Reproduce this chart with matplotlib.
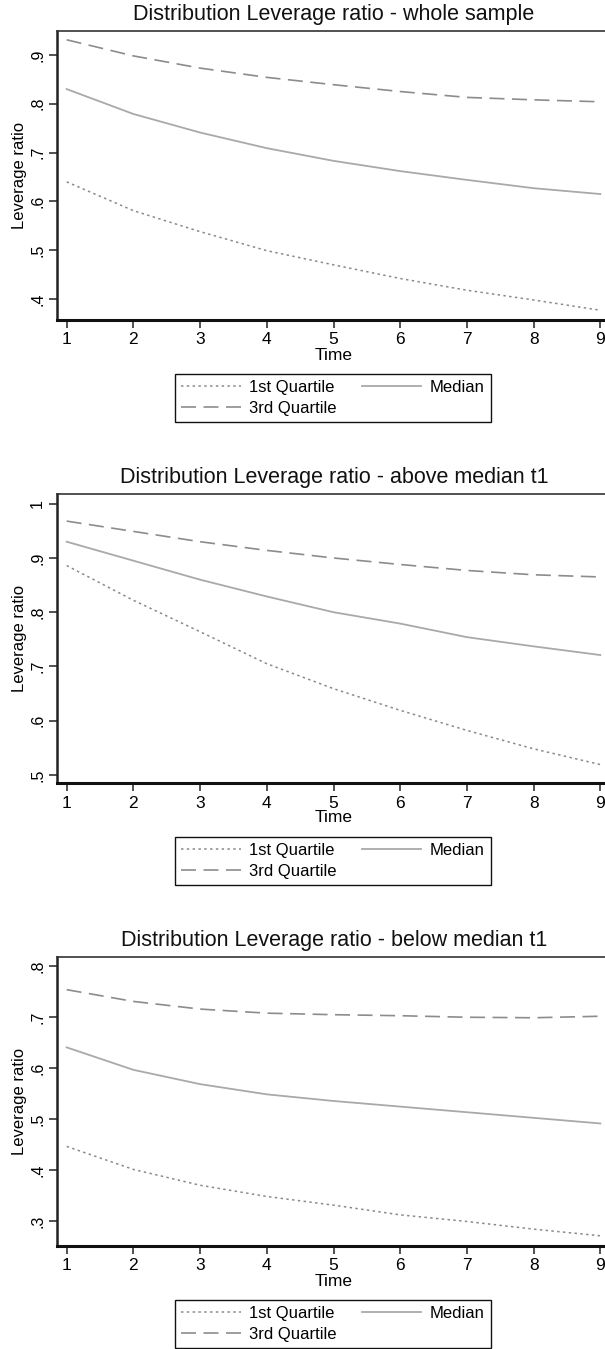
import numpy as np
import matplotlib
matplotlib.use("Agg")
import matplotlib.pyplot as plt

plt.rcParams['font.family'] = ['Liberation Sans', 'DejaVu Sans']

time = [1, 2, 3, 4, 5, 6, 7, 8, 9]

# whole sample
q1_all = [0.640, 0.581, 0.538, 0.499, 0.470, 0.442, 0.418, 0.398, 0.377]
med_all = [0.830, 0.779, 0.741, 0.709, 0.683, 0.662, 0.644, 0.627, 0.615]
q3_all = [0.931, 0.898, 0.873, 0.854, 0.839, 0.825, 0.813, 0.808, 0.804]

# above median t1
q1_above = [0.886, 0.822, 0.764, 0.705, 0.659, 0.619, 0.582, 0.548, 0.519]
med_above = [0.930, 0.895, 0.860, 0.829, 0.800, 0.779, 0.754, 0.737, 0.721]
q3_above = [0.968, 0.949, 0.930, 0.914, 0.900, 0.888, 0.877, 0.869, 0.865]

# below median t1
q1_below = [0.447, 0.402, 0.371, 0.349, 0.332, 0.313, 0.300, 0.285, 0.272]
med_below = [0.641, 0.597, 0.569, 0.549, 0.536, 0.525, 0.514, 0.503, 0.492]
q3_below = [0.754, 0.731, 0.716, 0.708, 0.705, 0.703, 0.700, 0.699, 0.702]

titles = ["Distribution Leverage ratio - whole sample",
          "Distribution Leverage ratio - above median t1",
          "Distribution Leverage ratio - below median t1"]
yticks = [[0.4, 0.5, 0.6, 0.7, 0.8, 0.9],
          [0.5, 0.6, 0.7, 0.8, 0.9, 1.0],
          [0.3, 0.4, 0.5, 0.6, 0.7, 0.8]]
ylims = [(0.357, 0.949), (0.485, 1.018), (0.252, 0.818)]
panels = [(q1_all, med_all, q3_all),
          (q1_above, med_above, q3_above),
          (q1_below, med_below, q3_below)]

W, H = 605, 1349
fig = plt.figure(figsize=(W / 100, H / 100), dpi=100)

tops = [31, 494, 957]      # pixel position of top spine
ax_h = 289
left_px, right_px = 57, 610


def ytick_fmt(v):
    s = "%g" % round(v, 1)
    return s[1:] if s.startswith("0.") else s


for i in range(3):
    top = tops[i]
    ax = fig.add_axes([left_px / W, 1 - (top + ax_h) / H,
                       (right_px - left_px) / W, ax_h / H])
    q1, med, q3 = panels[i]
    l1, = ax.plot(time, q1, color="#8a8a8a", lw=1.1, ls=(0, (1.6, 2.2)))
    l2, = ax.plot(time, med, color="#a9a9a9", lw=1.3, ls="-")
    l3, = ax.plot(time, q3, color="#8c8c8c", lw=1.2, ls=(0, (9, 4.5)))

    ax.set_xlim(0.855, 9.145)
    ax.set_ylim(*ylims[i])
    ax.set_xticks(time)
    ax.set_xticklabels([str(t) for t in time], fontsize=12.5)
    ax.set_yticks(yticks[i])
    ax.set_yticklabels([ytick_fmt(v) for v in yticks[i]], fontsize=11.5,
                       rotation=90, va="center")
    ax.tick_params(axis="both", length=5.5, width=1.1, color="#222222")
    ax.tick_params(axis="x", pad=3.5)
    ax.tick_params(axis="y", pad=3)
    for s in ax.spines.values():
        s.set_color("#333333")
        s.set_linewidth(1.2)
    ax.spines["bottom"].set_linewidth(2.2)
    ax.spines["bottom"].set_color("#111111")
    ax.spines["left"].set_linewidth(1.8)
    ax.spines["left"].set_color("#222222")

    ax.set_xlabel("Time", fontsize=12.5, labelpad=0)
    ax.set_ylabel("Leverage ratio", fontsize=12, labelpad=2)
    fig.text(334 / W, 1 - (top - 16.5) / H, titles[i], fontsize=15.5,
             ha="center", va="center", color="#111111")

    leg_center = top + 367
    fig.legend([l1, l3, l2], ["1st Quartile", "3rd Quartile", "Median"],
               ncol=2, loc="center", fontsize=12,
               bbox_to_anchor=(333 / W, 1 - leg_center / H),
               frameon=True, fancybox=False, edgecolor="#111111",
               framealpha=1, handlelength=3.55, columnspacing=1.55,
               handletextpad=0.5, labelspacing=0.38, borderpad=0.36)

fig.savefig("out.png", dpi=100)
